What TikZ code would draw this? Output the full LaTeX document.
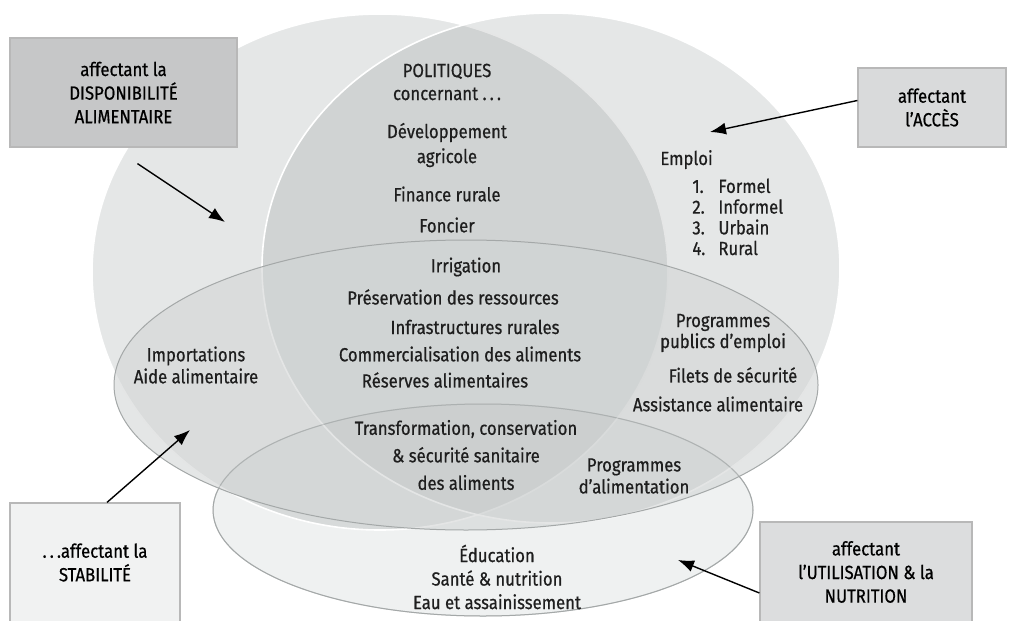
\documentclass[tikz,border=0pt]{standalone}
\usepackage{fontspec}
\setmainfont{Fira Sans}[FakeStretch=0.88, FakeBold=0.6]
\usetikzlibrary{positioning,arrows.meta}

\definecolor{ringfill}{HTML}{5E6868}
\definecolor{stabfill}{HTML}{D2D5D5}
\definecolor{utilfill}{HTML}{EFF1F1}
\definecolor{ringline}{HTML}{A4A8A8}
\definecolor{dispofill}{HTML}{C6C7C8}
\definecolor{accfill}{HTML}{D9DADB}
\definecolor{stabboxfill}{HTML}{F1F2F2}
\definecolor{utilboxfill}{HTML}{DCDDDE}
\definecolor{inktext}{HTML}{1E1E1E}

\begin{document}
\begin{tikzpicture}[
  x=0.5pt, y=-0.5pt,
  every node/.style={text=inktext, inner sep=0pt},
  ring/.style={fill=ringfill, fill opacity=0.16, draw=white, line width=0.8pt},
  band/.style={fill=stabfill, fill opacity=0.6, draw=ringline, line width=0.5pt},
  rim/.style={draw=ringline, line width=0.5pt},
  labelbox/.style={rectangle, draw=black!28, line width=0.6pt, align=center,
    font=\fontsize{9.5}{11.8}\selectfont, text=black},
  policy/.style={align=center, font=\fontsize{9.5}{11.5}\selectfont},
  pointer/.style={-{Latex[length=8pt,width=6pt]}, line width=0.7pt, black}
]
  \clip (0,0) rectangle (1010,620);

  % the four dimensions
  \filldraw[rim, fill=utilfill] (483,510) ellipse [x radius=270, y radius=106];
  \filldraw[ring] (380,272) ellipse [x radius=288, y radius=258];
  \filldraw[ring] (551,268) ellipse [x radius=289, y radius=255];
  \filldraw[band] (466,385) ellipse [x radius=352, y radius=145];
  \draw[rim, draw opacity=0.5] (483,510) ellipse [x radius=270, y radius=106];

  % boxes
  \node (dispobox) [labelbox, fill=dispofill, minimum width=113.5pt, minimum height=54.5pt] at (123.5,92.5) {affectant la\\DISPONIBILITÉ\\ALIMENTAIRE};
  \node (accbox) [labelbox, fill=accfill, minimum width=74pt, minimum height=39.5pt] at (932,107.5) {affectant\\l’ACCÈS};
  \node (stabbox) [labelbox, fill=stabboxfill, minimum width=85pt, minimum height=59.5pt] at (95,562.5) {.\,.\,.affectant la\\STABILITÉ};
  \node (utilbox) [labelbox, fill=utilboxfill, minimum width=106pt, minimum height=50pt] at (866,572) {affectant\\l’UTILISATION \& la\\NUTRITION};

  % policies
  \node (politiques) [policy] at (447,82) {POLITIQUES\\concernant .\,.\,.};
  \node (devagri) [policy, font=\fontsize{9.5}{12.5}\selectfont] at (447,145) {Développement\\agricole};
  \node (finance) [policy] at (447,194) {Finance rurale};
  \node (foncier) [policy] at (447,225) {Foncier};
  \node (irrig) [policy] at (466,267) {Irrigation};
  \node (preserv) [policy] at (453,297) {Préservation des ressources};
  \node (infra) [policy] at (475,327) {Infrastructures rurales};
  \node (commerce) [policy] at (460,354) {Commercialisation des aliments};
  \node (reserves) [policy] at (445,380) {Réserves alimentaires};
  \node (imports) [policy, font=\fontsize{9.5}{11}\selectfont] at (196,365) {Importations\\Aide alimentaire};
  \node (transfo) [policy, font=\fontsize{9.5}{13.75}\selectfont] at (466,455) {Transformation, conservation\\\& sécurité sanitaire\\des aliments};
  \node (progalim) [policy, font=\fontsize{9.5}{11}\selectfont] at (634,476) {Programmes\\d’alimentation};
  \node (progpub) [policy, font=\fontsize{9.5}{10.5}\selectfont] at (723,333) {Programmes\\publics d’emploi};
  \node (filets) [policy] at (733,375) {Filets de sécurité};
  \node (assist) [policy] at (718,404) {Assistance alimentaire};
  \node (emploi) [anchor=base west] at (660,165) {\fontsize{9.5}{11}\selectfont Emploi};
  \node (emplist) [anchor=base west, align=left, font=\fontsize{9.5}{10.35}\selectfont] at (692,255)
    {\makebox[13pt][l]{1.}Formel\\\makebox[13pt][l]{2.}Informel\\\makebox[13pt][l]{3.}Urbain\\\makebox[13pt][l]{4.}Rural};
  \node (educ) [policy, font=\fontsize{9.5}{11.75}\selectfont] at (497,577) {Éducation\\Santé \& nutrition\\Eau et assainissement};

  % arrows
  \coordinate (dispotip) at (225,222);
  \coordinate (acctip) at (710,132);
  \coordinate (stabtip) at (190,430);
  \coordinate (utiltip) at (678,560);
  \draw[pointer] ([xshift=7pt,yshift=-8pt]dispobox.south) -- (dispotip);
  \draw[pointer] ([yshift=3.5pt]accbox.west) -- (acctip);
  \draw[pointer] ([xshift=6pt]stabbox.north) -- (stabtip);
  \draw[pointer] ([yshift=-10.5pt]utilbox.west) -- (utiltip);
\end{tikzpicture}
\end{document}
